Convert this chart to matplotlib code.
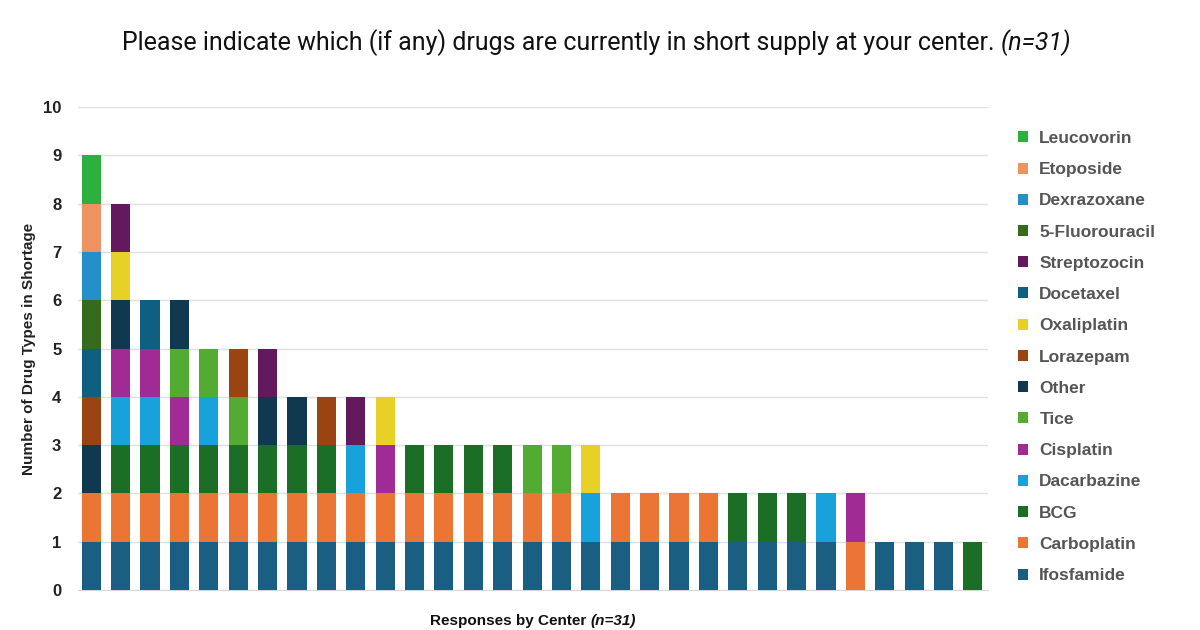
import matplotlib
matplotlib.use("Agg")
import matplotlib.pyplot as plt
from matplotlib.patches import Patch

# 31 centers, each drug is 0/1 per center (stacked bottom -> top)
centers = list(range(1, 32))

ifosfamide     = [1] * 26 + [0] + [1, 1, 1] + [0]
carboplatin    = [1] * 17 + [0] + [1, 1, 1, 1] + [0, 0, 0, 0] + [1] + [0, 0, 0, 0]
bcg            = [0] + [1] * 8 + [0, 0] + [1, 1, 1, 1] + [0] * 7 + [1, 1, 1] + [0] * 5 + [1]
dacarbazine_on = [2, 3, 5, 10, 18, 26]
cisplatin_on   = [2, 3, 4, 11, 27]
tice_on        = [4, 5, 6, 16, 17]
other_on       = [1, 2, 4, 7, 8]
lorazepam_on   = [1, 6, 9]
oxaliplatin_on = [2, 11, 18]
docetaxel_on   = [1, 3]
strepto_on     = [2, 7, 10]
fluoro_on      = [1]
dexra_on       = [1]
etoposide_on   = [1]
leucovorin_on  = [1]


def onehot(on):
    return [1 if c in on else 0 for c in centers]


series = [
    ("Ifosfamide", ifosfamide, "#1a5f82"),
    ("Carboplatin", carboplatin, "#ea7535"),
    ("BCG", bcg, "#1c6d25"),
    ("Dacarbazine", onehot(dacarbazine_on), "#17a2dc"),
    ("Cisplatin", onehot(cisplatin_on), "#a12b94"),
    ("Tice", onehot(tice_on), "#53ab31"),
    ("Other", onehot(other_on), "#10394f"),
    ("Lorazepam", onehot(lorazepam_on), "#9a4313"),
    ("Oxaliplatin", onehot(oxaliplatin_on), "#e8d127"),
    ("Docetaxel", onehot(docetaxel_on), "#0e5f80"),
    ("Streptozocin", onehot(strepto_on), "#621a5d"),
    ("5-Fluorouracil", onehot(fluoro_on), "#366b1e"),
    ("Dexrazoxane", onehot(dexra_on), "#2490c7"),
    ("Etoposide", onehot(etoposide_on), "#ef9262"),
    ("Leucovorin", onehot(leucovorin_on), "#2cb040"),
]

fig = plt.figure(figsize=(12, 6.3), dpi=100)
ax = fig.add_axes([0.065, 0.0635, 0.758, 0.7665])

x = list(range(len(centers)))
bottom = [0] * len(centers)
for name, vals, color in series:
    ax.bar(x, vals, bottom=bottom, width=0.65, color=color, linewidth=0, zorder=3)
    bottom = [b + v for b, v in zip(bottom, vals)]

ax.set_xlim(-0.45, 30.5)
ax.set_ylim(0, 10)
ax.set_yticks(range(0, 11))
ax.set_xticks([])
ax.grid(axis="y", color="#e0e0e0", linewidth=1, zorder=0)
for s in ["top", "right", "left"]:
    ax.spines[s].set_visible(False)
ax.spines["bottom"].set_color("#d8d8d8")
ax.tick_params(axis="y", length=0, pad=12)
for lbl in ax.get_yticklabels():
    lbl.set_fontfamily("Liberation Sans")
    lbl.set_fontweight("bold")
    lbl.set_fontsize(12)
    lbl.set_color("#222222")

ax.set_ylabel("Number of Drug Types in Shortage", fontfamily="Liberation Sans",
              fontweight="bold", fontsize=11, color="#222222", labelpad=5)

# title with italic part
fig.canvas.draw()
r = fig.canvas.get_renderer()
t1 = fig.text(0, 0.932, "Please indicate which (if any) drugs are currently in short supply at your center. ",
              fontfamily="Roboto", fontsize=18, color="#111111", va="center")
t2 = fig.text(0, 0.932, "(n=31)", fontfamily="Roboto", fontstyle="italic",
              fontsize=18, color="#111111", va="center")
w1 = t1.get_window_extent(r).width
w2 = t2.get_window_extent(r).width
x0 = (597 - (w1 + w2) / 2) / 1200
t1.set_x(x0)
t2.set_x(x0 + w1 / 1200)

# x label with italic part
x1 = fig.text(0, 0.014, "Responses by Center ", fontfamily="Liberation Sans",
              fontweight="bold", fontsize=11, color="#111111", va="center")
x2 = fig.text(0, 0.014, "(n=31)", fontfamily="Liberation Sans", fontweight="bold",
              fontstyle="italic", fontsize=11, color="#111111", va="center")
wa = x1.get_window_extent(r).width
wb = x2.get_window_extent(r).width
xs = (533 - (wa + wb) / 2) / 1200
x1.set_x(xs)
x2.set_x(xs + wa / 1200)

handles = [Patch(facecolor=c, edgecolor="none", label=n) for n, _, c in reversed(series)]
leg = fig.legend(handles=handles, loc="upper left", bbox_to_anchor=(0.835, 0.817),
                 frameon=False, prop={"family": "Liberation Sans", "weight": "bold", "size": 12.5},
                 handlelength=0.6, handleheight=0.6, handletextpad=0.65, labelspacing=0.935)
for txt in leg.get_texts():
    txt.set_color("#555555")

fig.savefig("out.png", dpi=100)
